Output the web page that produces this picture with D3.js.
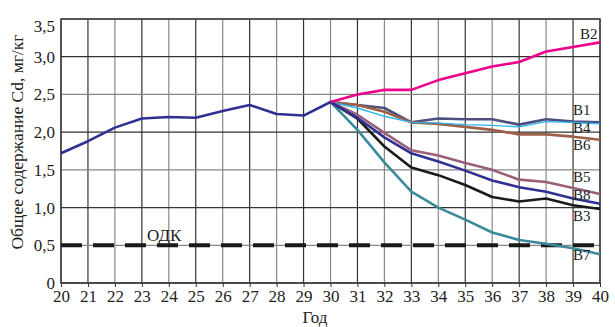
<!DOCTYPE html>
<html>
<head>
<meta charset="utf-8">
<script src="https://cdn.jsdelivr.net/npm/d3@7"></script>
<style>
  body { margin: 0; background: #fff; }
  svg text { font-family: "Liberation Serif", "DejaVu Serif", serif; fill: #222; }
</style>
</head>
<body>
<div id="chart"></div>
<script>
// years and values
const historyYears = [20, 21, 22, 23, 24, 25, 26, 27, 28, 29, 30];
const historyValues = [1.72, 1.88, 2.06, 2.18, 2.20, 2.19, 2.28, 2.36, 2.24, 2.22, 2.40];

const scenarioYears = [30, 31, 32, 33, 34, 35, 36, 37, 38, 39, 40];
const b1 = [2.40, 2.36, 2.32, 2.13, 2.18, 2.17, 2.17, 2.10, 2.17, 2.14, 2.13];
const b2 = [2.40, 2.50, 2.56, 2.56, 2.69, 2.78, 2.87, 2.93, 3.07, 3.13, 3.19];
const b3 = [2.40, 2.18, 1.81, 1.53, 1.43, 1.30, 1.14, 1.08, 1.12, 1.03, 0.98];
const b4 = [2.40, 2.32, 2.21, 2.13, 2.12, 2.10, 2.09, 2.07, 2.14, 2.13, 2.11];
const b5 = [2.40, 2.23, 1.99, 1.76, 1.69, 1.59, 1.50, 1.37, 1.34, 1.26, 1.18];
const b6 = [2.40, 2.36, 2.27, 2.13, 2.11, 2.07, 2.03, 1.97, 1.97, 1.94, 1.90];
const b7 = [2.40, 2.03, 1.60, 1.21, 1.00, 0.84, 0.67, 0.57, 0.52, 0.46, 0.38];
const b8 = [2.40, 2.19, 1.93, 1.72, 1.61, 1.49, 1.36, 1.27, 1.21, 1.12, 1.05];

const xTicks = d3.range(20, 41);
const yTicks = [0, 0.5, 1, 1.5, 2, 2.5, 3, 3.5];
const odk = 0.5;

const width = 615, height = 327;
const margin = {top: 19, right: 15, bottom: 44, left: 61};

const svg = d3.select('#chart').append('svg')
  .attr('width', width)
  .attr('height', height);

const x = d3.scaleLinear().domain([20, 40]).range([margin.left, width - margin.right]);
const y = d3.scaleLinear().domain([0, 3.5]).range([height - margin.bottom, margin.top]);

// grid
svg.append('g').selectAll('line').data(xTicks).enter().append('line')
  .attr('x1', d => x(d)).attr('x2', d => x(d))
  .attr('y1', y(0)).attr('y2', y(3.5))
  .attr('stroke', d => d % 2 ? '#333' : '#888')
  .attr('stroke-width', 1.2);
svg.append('g').selectAll('line').data(yTicks).enter().append('line')
  .attr('x1', x(20)).attr('x2', x(40))
  .attr('y1', d => y(d)).attr('y2', d => y(d))
  .attr('stroke', d => (d * 2) % 2 ? '#888' : '#333')
  .attr('stroke-width', 1.2);

// frame
svg.append('rect')
  .attr('x', x(20)).attr('y', y(3.5))
  .attr('width', x(40) - x(20)).attr('height', y(0) - y(3.5))
  .attr('fill', 'none').attr('stroke', '#333').attr('stroke-width', 1.5);

// axes
const fmt = d => d === 0 ? '0' : d3.format('.1f')(d).replace('.', ',');
const xAxis = svg.append('g')
  .attr('transform', 'translate(0,' + y(0) + ')')
  .call(d3.axisBottom(x).tickValues(xTicks).tickSize(4).tickFormat(d3.format('d')));
const yAxis = svg.append('g')
  .attr('transform', 'translate(' + x(20) + ',0)')
  .call(d3.axisLeft(y).tickValues(yTicks).tickSize(0).tickPadding(6).tickFormat(fmt));
[xAxis, yAxis].forEach(a => {
  a.select('.domain').remove();
  a.selectAll('line').attr('stroke', '#333');
  a.selectAll('text').style('font-size', '17px').attr('fill', '#222');
});
// top label sits a bit below its gridline, as in the original
yAxis.selectAll('.tick').filter(d => d === 3.5).select('text').attr('dy', '0.75em');

svg.append('text')
  .attr('x', 315).attr('y', 323)
  .attr('text-anchor', 'middle')
  .style('font-size', '17px')
  .text('Год');

svg.append('text')
  .attr('transform', 'translate(23,142) rotate(-90)')
  .attr('text-anchor', 'middle')
  .style('font-size', '17.5px')
  .text('Общее содержание Cd, мг/кг');

// ОДК dashed line
svg.append('line')
  .attr('x1', x(20)).attr('x2', x(40))
  .attr('y1', y(odk)).attr('y2', y(odk))
  .attr('stroke', '#1a1a1a').attr('stroke-width', 4)
  .attr('stroke-dasharray', '21 11');
svg.append('text')
  .attr('x', 147).attr('y', y(odk) - 4)
  .style('font-size', '17px')
  .text('ОДК');

const line = d3.line().x(d => x(d[0])).y(d => y(d[1]));

const series = [
  {name: 'В7', values: b7, color: '#3b8a9c', w: 2.6, ly: 260},
  {name: 'В3', values: b3, color: '#1a1a1a', w: 2.6, ly: 221},
  {name: 'В8', values: b8, color: '#2e3192', w: 2.6, ly: 200},
  {name: 'В5', values: b5, color: '#9a5f7a', w: 2.6, ly: 182},
  {name: 'В6', values: b6, color: '#9e5f47', w: 2.6, ly: 150},
  {name: 'В4', values: b4, color: '#2ab4ee', w: 1.4, ly: 133},
  {name: 'В1', values: b1, color: '#4d4f7e', w: 2.6, ly: 115},
  {name: 'В2', values: b2, color: '#ec008c', w: 2.6, ly: 39}
];

const drawOrder = ['В1', 'В6', 'В4', 'В7', 'В3', 'В5', 'В8', 'В2'];
drawOrder.forEach(n => {
  const s = series.find(t => t.name === n);
  svg.append('path')
    .datum(scenarioYears.map((yr, i) => [yr, s.values[i]]))
    .attr('d', line)
    .attr('fill', 'none')
    .attr('stroke', s.color)
    .attr('stroke-width', s.w)
    .attr('stroke-linejoin', 'round');
});

svg.append('path')
  .datum(historyYears.map((yr, i) => [yr, historyValues[i]]))
  .attr('d', line)
  .attr('fill', 'none')
  .attr('stroke', '#2e3192')
  .attr('stroke-width', 2.6)
  .attr('stroke-linejoin', 'round');

// series labels
svg.append('g').selectAll('text').data(series).enter().append('text')
  .attr('x', d => d.name === 'В2' ? 580 : 573)
  .attr('y', d => d.ly)
  .style('font-size', '15px')
  .text(d => d.name);
</script>
</body>
</html>
